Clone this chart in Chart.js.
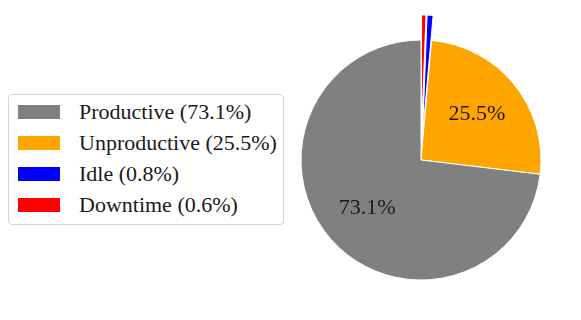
<!DOCTYPE html>
<html>
<head>
<meta charset="utf-8">
<script src="https://cdn.jsdelivr.net/npm/chart.js@4/dist/chart.umd.min.js"></script>
<style>
    body { margin: 0; background: #fff; }
    #wrap { position: relative; width: 581px; height: 320px; }
    #legend {
        position: absolute; left: 8px; top: 94px; width: 276px; height: 131px;
        box-sizing: border-box; border: 1px solid #d5d5d5; border-radius: 4px; background: #fff;
        padding-top: 1px;
        font-family: "Liberation Serif", "Times New Roman", serif; font-size: 22px; color: #1a1a1a;
    }
    .row { display: flex; align-items: center; height: 31px; white-space: nowrap; }
    .sw { width: 42px; height: 14px; margin-left: 9px; margin-right: 19px; flex: none; }
</style>
</head>
<body>
<div id="wrap">
    <canvas id="grafico" width="581" height="320"></canvas>
    <div id="legend"></div>
</div>
<script>
// datos (orden de la leyenda)
const categorias = ["Productive", "Unproductive", "Idle", "Downtime"];
const valores = [73.1, 25.5, 0.8, 0.6];
const colores = ["#808080", "#ffa500", "#0000ff", "#ff0000"];
const separados = [0, 0, 25, 25];

// Chart.js dibuja en sentido horario, matplotlib al revés -> invertir
const etiquetasGraf = categorias.slice().reverse();
const valoresGraf = valores.slice().reverse();
const coloresGraf = colores.slice().reverse();
const separadosGraf = separados.slice().reverse();

// leyenda
const legendDiv = document.getElementById("legend");
categorias.forEach((c, i) => {
    const row = document.createElement("div");
    row.className = "row";
    row.innerHTML = `<span class="sw" style="background:${colores[i]}"></span><span>${c} (${valores[i].toFixed(1)}%)</span>`;
    legendDiv.appendChild(row);
});

// porciones separadas: se dibujan desplazadas sin cambiar su ángulo ni radio
const explotar = {
    id: "explotar",
    beforeDatasetsDraw(chart) {
        chart.getDatasetMeta(0).data.forEach((arc, i) => {
            if (separadosGraf[i]) arc.hidden = true;
        });
    },
    afterDatasetsDraw(chart) {
        const ctx = chart.ctx;
        chart.getDatasetMeta(0).data.forEach((arc, i) => {
            const d = separadosGraf[i];
            if (!d) return;
            arc.hidden = false;
            const mid = (arc.startAngle + arc.endAngle) / 2;
            ctx.save();
            ctx.translate(Math.cos(mid) * d, Math.sin(mid) * d);
            arc.draw(ctx, chart.chartArea);
            ctx.restore();
        });
    }
};

// porcentajes dentro del pastel
const pctLabels = {
    id: "pctLabels",
    afterDatasetsDraw(chart) {
        const ctx = chart.ctx;
        const meta = chart.getDatasetMeta(0);
        ctx.save();
        ctx.font = '22px "Liberation Serif", "Times New Roman", serif';
        ctx.fillStyle = "#1a1a1a";
        ctx.textAlign = "center";
        ctx.textBaseline = "middle";
        meta.data.forEach((arc, i) => {
            const v = valoresGraf[i];
            if (v < 5) return;
            const p = arc.getProps(["x", "y", "startAngle", "endAngle", "outerRadius"], true);
            const mid = (p.startAngle + p.endAngle) / 2;
            const r = p.outerRadius * 0.6;
            ctx.fillText(v.toFixed(1) + "%", p.x + Math.cos(mid) * r, p.y + Math.sin(mid) * r);
        });
        ctx.restore();
    }
};

const ctx = document.getElementById("grafico").getContext("2d");
new Chart(ctx, {
    type: "pie",
    data: {
        labels: etiquetasGraf,
        datasets: [{
            data: valoresGraf,
            backgroundColor: coloresGraf,
            borderColor: "#ffffff",
            borderWidth: 1
        }]
    },
    options: {
        responsive: false,
        devicePixelRatio: 1,
        animation: false,
        radius: 120,
        layout: { padding: { left: 290, right: 29, top: 0, bottom: 0 } },
        plugins: {
            legend: { display: false },
            tooltip: { enabled: false }
        }
    },
    plugins: [explotar, pctLabels]
});
</script>
</body>
</html>
